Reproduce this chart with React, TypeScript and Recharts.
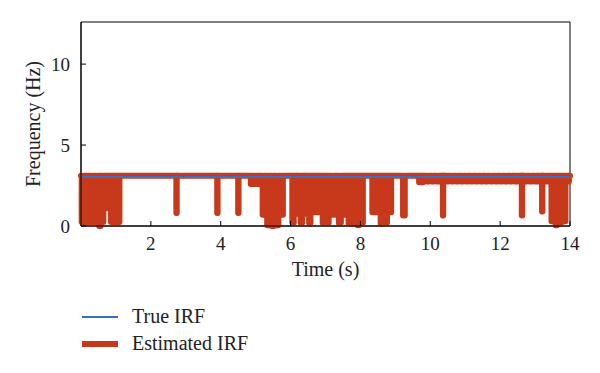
import React from 'react';
import { LineChart, Line, XAxis, YAxis, ReferenceArea, Legend } from 'recharts';

const BLUE = '#3472c4';
const RED = '#c8381a';
const FONT = '"Liberation Serif", "Times New Roman", serif';

const TOP_LEVEL = 3.1;
const TRUE_LEVEL = 3;
const X_MAX = 14;
const Y_MAX = 12.6;
const xTicks = [2, 4, 6, 8, 10, 12, 14];
const yTicks = [0, 5, 10];

// each dip: [start (s), end (s), frequency reached (Hz)]
const onsetBurst = [
  [0.02, 0.08, 0.25], [0.15, 0.21, 0.25], [0.28, 0.34, 0.25], [0.41, 0.47, 0.25],
  [0.52, 0.56, 0.0], [0.6, 0.64, 0.25], [0.72, 0.76, 1.1], [0.86, 0.9, 0.25],
  [0.97, 1.01, 0.25], [1.06, 1.1, 0.25],
];
const isolatedDips = [
  [2.73, 2.74, 0.8], [3.9, 3.91, 0.8], [4.5, 4.51, 0.8],
  [4.86, 4.91, 2.6], [4.96, 5.01, 2.6], [5.05, 5.09, 2.6],
  [9.22, 9.27, 0.65], [9.68, 9.72, 2.7], [9.76, 9.79, 2.7], [10.36, 10.37, 0.65],
  [12.62, 12.63, 0.65], [13.2, 13.21, 0.9],
];
const midBurst = [
  [5.2, 5.26, 0.7], [5.33, 5.39, 0.05], [5.46, 5.52, 0.0], [5.59, 5.65, 0.05], [5.72, 5.78, 0.7],
  [6.05, 6.09, 0.2], [6.17, 6.19, 0.75], [6.29, 6.33, 0.2], [6.41, 6.43, 0.75], [6.53, 6.57, 0.2],
  [6.64, 6.68, 0.85], [6.78, 6.82, 0.85], [6.92, 6.96, 0.2], [7.05, 7.09, 0.2], [7.18, 7.24, 0.7],
  [7.38, 7.44, 0.2], [7.52, 7.56, 0.7], [7.66, 7.7, 0.2], [7.79, 7.83, 0.15], [7.92, 7.96, 0.05],
  [8.03, 8.07, 0.2],
  [8.34, 8.38, 0.85], [8.45, 8.49, 0.85], [8.58, 8.62, 0.15], [8.72, 8.76, 0.2], [8.84, 8.88, 0.85],
];
const ripple = [
  [9.9, 9.96, 2.75], [10.04, 10.1, 2.75], [10.18, 10.24, 2.75], [10.28, 10.32, 2.75], [10.46, 10.52, 2.75],
  [10.6, 10.66, 2.75], [10.74, 10.8, 2.75], [10.88, 10.94, 2.75], [11.02, 11.08, 2.75],
  [11.16, 11.22, 2.75], [11.3, 11.36, 2.75], [11.44, 11.5, 2.75], [11.58, 11.64, 2.75],
  [11.72, 11.78, 2.75], [11.86, 11.92, 2.75], [12.0, 12.06, 2.75], [12.14, 12.2, 2.75],
  [12.28, 12.34, 2.75], [12.42, 12.48, 2.75], [12.52, 12.57, 2.75], [12.7, 12.76, 2.75],
  [12.84, 12.9, 2.75], [12.98, 13.04, 2.75], [13.1, 13.15, 2.75], [13.27, 13.33, 2.75],
  [13.38, 13.42, 2.75], [13.92, 13.97, 2.75],
];
const endBurst = [
  [13.47, 13.52, 0.3], [13.59, 13.63, 0.05], [13.71, 13.75, 0.2], [13.83, 13.87, 0.3],
];

const trueIrf = [
  { t: 0, f: TRUE_LEVEL },
  { t: X_MAX, f: TRUE_LEVEL },
];

function buildSteps(dips: number[][]) {
  const sorted = [...dips].sort((a, b) => a[0] - b[0]);
  const pts = [{ t: 0, f: TOP_LEVEL }];
  sorted.forEach(([s, e, lvl]) => {
    pts.push({ t: s, f: lvl });
    pts.push({ t: e, f: TOP_LEVEL });
  });
  pts.push({ t: X_MAX, f: TOP_LEVEL });
  return pts;
}

const estimatedIrf = buildSteps([...onsetBurst, ...isolatedDips, ...midBurst, ...ripple, ...endBurst]);

const LegendBox = () => (
  <svg width={300} height={60} style={{ overflow: 'visible' }}>
    <line x1={0} x2={36} y1={10} y2={10} stroke={BLUE} strokeWidth={2} />
    <text x={50} y={16} fontFamily={FONT} fontSize={20} fill="#222">True IRF</text>
    <line x1={0} x2={36} y1={37} y2={37} stroke={RED} strokeWidth={6} />
    <text x={50} y={43} fontFamily={FONT} fontSize={20} fill="#222">Estimated IRF</text>
  </svg>
);

const tickStyle = { fontFamily: FONT, fontSize: 19, fill: '#222' };

export default function App() {
  return (
    <div style={{ position: 'absolute', left: 0, top: 0, background: '#fff' }}>
      <LineChart width={600} height={373} margin={{ top: 22, right: 30, bottom: 117, left: 28 }}>
        <XAxis
          dataKey="t"
          type="number"
          domain={[0, X_MAX]}
          ticks={xTicks}
          height={30}
          tickSize={-5}
          tickMargin={16}
          tick={tickStyle}
          stroke="#000"
          tickLine={{ stroke: '#000' }}
          label={{ value: 'Time (s)', position: 'bottom', offset: 6, style: { fontFamily: FONT, fontSize: 20, fill: '#222' } }}
        />
        <YAxis
          type="number"
          domain={[0, Y_MAX]}
          ticks={yTicks}
          width={53}
          tickSize={-5}
          tickMargin={16}
          tick={tickStyle}
          stroke="#000"
          tickLine={{ stroke: '#000' }}
          label={{
            value: 'Frequency (Hz)',
            angle: -90,
            position: 'insideLeft',
            offset: 5,
            style: { fontFamily: FONT, fontSize: 20, fill: '#222', textAnchor: 'middle' },
          }}
        />
        <ReferenceArea x1={0} x2={X_MAX} y1={0} y2={Y_MAX} fill="none" stroke="#000" strokeWidth={1} />
        <Line
          data={estimatedIrf}
          dataKey="f"
          name="Estimated IRF"
          type="stepAfter"
          stroke={RED}
          strokeWidth={6}
          strokeLinejoin="round"
          strokeLinecap="round"
          dot={false}
          activeDot={false}
          isAnimationActive={false}
        />
        <Line
          data={trueIrf}
          dataKey="f"
          name="True IRF"
          type="linear"
          stroke={BLUE}
          strokeWidth={2}
          shapeRendering="crispEdges"
          dot={false}
          activeDot={false}
          isAnimationActive={false}
        />
        <Legend
          layout="horizontal"
          verticalAlign="middle"
          align="center"
          content={LegendBox}
          wrapperStyle={{ left: 82, top: 307, width: 300, height: 60, overflow: 'visible' }}
        />
      </LineChart>
    </div>
  );
}
